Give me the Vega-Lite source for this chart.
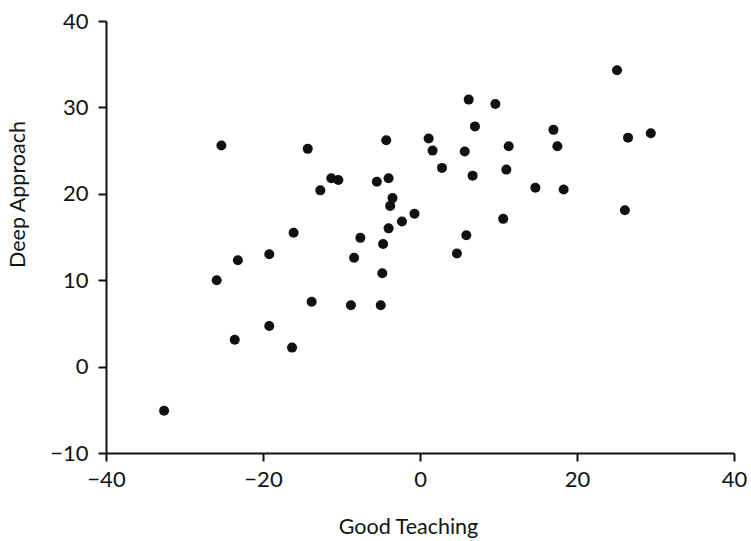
{
  "$schema": "https://vega.github.io/schema/vega-lite/v6.json",
  "autosize": "none",
  "width": 628,
  "height": 432,
  "padding": {"left": 106, "top": 21, "right": 17, "bottom": 88},
  "background": "white",
  "config": {
    "view": {"stroke": null},
    "font": "Lato",
    "axis": {
      "grid": false,
      "domainColor": "#111",
      "domainWidth": 2,
      "tickColor": "#111",
      "tickWidth": 2,
      "tickSize": 8,
      "labelFont": "Lato",
      "labelFontSize": 22,
      "labelColor": "#111",
      "labelFlush": false,
      "labelOverlap": false,
      "titleFont": "Lato",
      "titleFontSize": 21.5,
      "titleFontWeight": "normal",
      "titleColor": "#111"
    }
  },
  "data": {
    "values": [
      {"teaching": -32.6, "deep": -5.1},
      {"teaching": -25.9, "deep": 10.0},
      {"teaching": -25.3, "deep": 25.6},
      {"teaching": -23.6, "deep": 3.1},
      {"teaching": -23.2, "deep": 12.3},
      {"teaching": -19.2, "deep": 13.0},
      {"teaching": -19.2, "deep": 4.7},
      {"teaching": -16.3, "deep": 2.2},
      {"teaching": -16.1, "deep": 15.5},
      {"teaching": -14.3, "deep": 25.2},
      {"teaching": -13.8, "deep": 7.5},
      {"teaching": -12.7, "deep": 20.4},
      {"teaching": -11.3, "deep": 21.8},
      {"teaching": -10.4, "deep": 21.6},
      {"teaching": -8.8, "deep": 7.1},
      {"teaching": -8.4, "deep": 12.6},
      {"teaching": -7.6, "deep": 14.9},
      {"teaching": -5.5, "deep": 21.4},
      {"teaching": -5.0, "deep": 7.1},
      {"teaching": -4.8, "deep": 10.8},
      {"teaching": -4.7, "deep": 14.2},
      {"teaching": -4.3, "deep": 26.2},
      {"teaching": -4.0, "deep": 21.8},
      {"teaching": -4.0, "deep": 16.0},
      {"teaching": -3.8, "deep": 18.6},
      {"teaching": -3.5, "deep": 19.5},
      {"teaching": -2.3, "deep": 16.8},
      {"teaching": -0.7, "deep": 17.7},
      {"teaching": 1.1, "deep": 26.4},
      {"teaching": 1.6, "deep": 25.0},
      {"teaching": 2.8, "deep": 23.0},
      {"teaching": 4.7, "deep": 13.1},
      {"teaching": 5.7, "deep": 24.9},
      {"teaching": 5.9, "deep": 15.2},
      {"teaching": 6.2, "deep": 30.9},
      {"teaching": 6.7, "deep": 22.1},
      {"teaching": 7.0, "deep": 27.8},
      {"teaching": 9.6, "deep": 30.4},
      {"teaching": 10.6, "deep": 17.1},
      {"teaching": 11.0, "deep": 22.8},
      {"teaching": 11.3, "deep": 25.5},
      {"teaching": 14.7, "deep": 20.7},
      {"teaching": 17.0, "deep": 27.4},
      {"teaching": 17.5, "deep": 25.5},
      {"teaching": 18.3, "deep": 20.5},
      {"teaching": 25.1, "deep": 34.3},
      {"teaching": 26.1, "deep": 18.1},
      {"teaching": 26.5, "deep": 26.5},
      {"teaching": 29.4, "deep": 27.0}
    ]
  },
  "mark": {"type": "point", "filled": true, "shape": "circle", "size": 100, "color": "#111", "opacity": 1},
  "encoding": {
    "x": {
      "field": "teaching",
      "type": "quantitative",
      "scale": {"domain": [-40, 40], "nice": false, "zero": false},
      "axis": {
        "title": "Good Teaching",
        "values": [-40, -20, 0, 20, 40],
        "labelPadding": 8,
        "titleX": 302,
        "titleY": 74,
        "titleBaseline": "middle",
        "titleAlign": "center"
      }
    },
    "y": {
      "field": "deep",
      "type": "quantitative",
      "scale": {"domain": [-10, 40], "nice": false, "zero": false},
      "axis": {
        "title": "Deep Approach",
        "values": [-10, 0, 10, 20, 30, 40],
        "labelPadding": 10,
        "titleX": -88,
        "titleY": 173,
        "titleAngle": -90,
        "titleBaseline": "middle",
        "titleAlign": "center"
      }
    }
  }
}
